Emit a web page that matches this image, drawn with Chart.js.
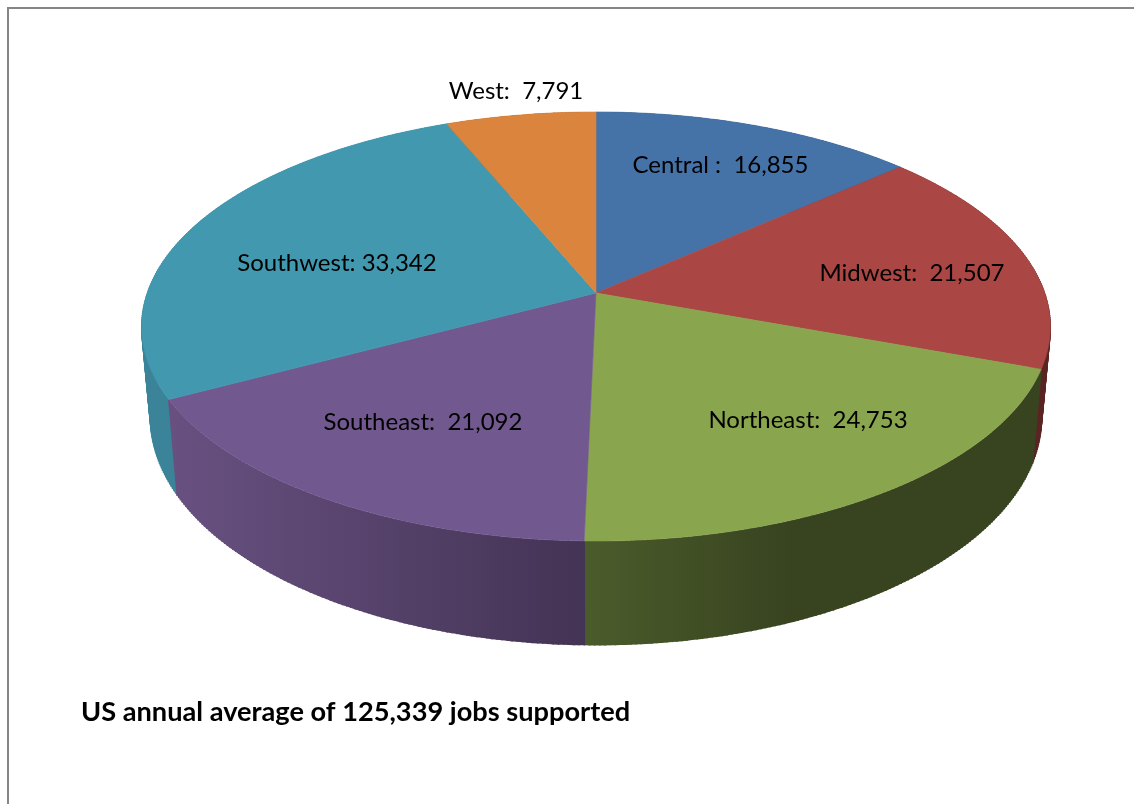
<!DOCTYPE html>
<html>
<head>
<meta charset="utf-8">
<title>US annual average jobs supported</title>
<script src="https://cdn.jsdelivr.net/npm/chart.js@4/dist/chart.umd.min.js"></script>
<style>
  html, body { margin: 0; padding: 0; background: #fff; }
  canvas { display: block; }
</style>
</head>
<body>
<canvas id="myChart" width="1134" height="804"></canvas>
<script>
const categories = ['Central', 'Midwest', 'Northeast', 'Southeast', 'Southwest', 'West'];
const jobs = [16855, 21507, 24753, 21092, 33342, 7791];
const sliceLabels = ['Central :  16,855', 'Midwest:  21,507', 'Northeast:  24,753', 'Southeast:  21,092', 'Southwest: 33,342', 'West:  7,791'];
const headline = 'US annual average of 125,339 jobs supported';

const faceColors = ['#4572A7', '#AA4643', '#89A54E', '#71588F', '#4198AF', '#DB843D'];
// left and right colour of each slice's outer wall
const wallShades = [
  ['#2B4568', '#2B4568'],
  ['#5A2423', '#5A2423'],
  ['#4B5C2B', '#384320'],
  ['#685181', '#433354'],
  ['#3A8398', '#3A8398'],
  ['#8A5226', '#8A5226']
];
// centre of each slice label, canvas pixels
const labelSpots = [[720.5, 165], [912, 273], [808, 420], [423, 422], [337, 263], [516, 91]];

// the disc is tilted towards the viewer, so a circle point goes through a perspective divide
const tilt = 0.156;
const topFace = { cx: 596, cy: 293, rx: 448.8, ry: 209.3 };
const bottomFace = { cx: 596, cy: 383, rx: 440, ry: 221.5 };

function project(face, angle) {
  const u = Math.cos(angle);
  const v = Math.sin(angle);
  const w = 1 - tilt * v;
  return { x: face.cx + face.rx * u / w, y: face.cy + face.ry * v / w };
}

function arcPoints(face, start, end) {
  const steps = Math.max(2, Math.ceil((end - start) / 0.01));
  const pts = [];
  for (let i = 0; i <= steps; i++) {
    pts.push(project(face, start + (end - start) * i / steps));
  }
  return pts;
}

function tracePath(ctx, pts) {
  ctx.beginPath();
  pts.forEach(function (p, i) {
    if (i === 0) ctx.moveTo(p.x, p.y);
    else ctx.lineTo(p.x, p.y);
  });
  ctx.closePath();
}

const tiltedPie = {
  id: 'tiltedPie',
  beforeDraw(chart) {
    // grey frame, only top and left show
    const ctx = chart.ctx;
    ctx.save();
    ctx.strokeStyle = '#868686';
    ctx.lineWidth = 2;
    ctx.beginPath();
    ctx.moveTo(8, 804);
    ctx.lineTo(8, 8);
    ctx.lineTo(1134, 8);
    ctx.stroke();
    ctx.restore();
  },
  beforeDatasetDraw(chart, args) {
    const ctx = chart.ctx;
    const arcs = chart.getDatasetMeta(args.index).data.map(function (el, i) {
      const p = el.getProps(['startAngle', 'endAngle'], true);
      return { i: i, start: p.startAngle, end: p.endAngle };
    });
    ctx.save();

    // walls first, back to front
    const byDepth = arcs.slice().sort(function (a, b) {
      return Math.sin((a.start + a.end) / 2) - Math.sin((b.start + b.end) / 2);
    });
    byDepth.forEach(function (a) {
      const upper = arcPoints(topFace, a.start, a.end);
      const lower = arcPoints(bottomFace, a.start, a.end);
      const all = upper.concat(lower.slice().reverse());
      const xs = all.map(function (p) { return p.x; });
      const grad = ctx.createLinearGradient(Math.min.apply(null, xs), 0, Math.max.apply(null, xs), 0);
      grad.addColorStop(0, wallShades[a.i][0]);
      grad.addColorStop(a.i === 2 ? 0.45 : 1, wallShades[a.i][1]);
      tracePath(ctx, all);
      ctx.fillStyle = grad;
      ctx.fill();
      // the rim lines fill the silhouette where the two arcs cross over
      ctx.strokeStyle = grad;
      ctx.lineWidth = 1.5;
      upper.forEach(function (p, n) {
        ctx.beginPath();
        ctx.moveTo(p.x, p.y);
        ctx.lineTo(lower[n].x, lower[n].y);
        ctx.stroke();
      });
    });

    // then the top face of every slice
    arcs.forEach(function (a) {
      const pts = [{ x: topFace.cx, y: topFace.cy }].concat(arcPoints(topFace, a.start, a.end));
      tracePath(ctx, pts);
      ctx.fillStyle = faceColors[a.i];
      ctx.strokeStyle = faceColors[a.i];
      ctx.lineWidth = 0.6;
      ctx.fill();
      ctx.stroke();
    });

    ctx.restore();
    return false; // flat arcs are not wanted
  },
  afterDatasetsDraw(chart) {
    const ctx = chart.ctx;
    ctx.save();
    ctx.font = '24px Lato';
    ctx.fillStyle = '#000';
    ctx.textAlign = 'center';
    ctx.textBaseline = 'middle';
    sliceLabels.forEach(function (text, i) {
      ctx.fillText(text, labelSpots[i][0], labelSpots[i][1]);
    });
    ctx.restore();
  }
};

new Chart(document.getElementById('myChart'), {
  type: 'pie',
  data: {
    labels: categories,
    datasets: [{ data: jobs, backgroundColor: faceColors, borderWidth: 0 }]
  },
  options: {
    responsive: false,
    animation: false,
    layout: { padding: { left: 81 } },
    plugins: {
      legend: { display: false },
      tooltip: { enabled: false },
      title: {
        display: true,
        text: headline,
        position: 'bottom',
        align: 'start',
        color: '#000',
        font: { family: 'Lato', size: 27.2, weight: 'bold' },
        padding: { top: 0, bottom: 75 }
      }
    }
  },
  plugins: [tiltedPie]
});
</script>
</body>
</html>
